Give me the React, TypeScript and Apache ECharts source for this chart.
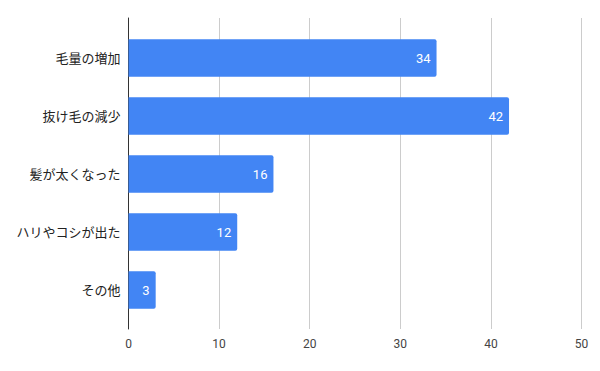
import React, { useEffect, useRef } from "react";
import * as echarts from "echarts";

const categories = ["毛量の増加", "抜け毛の減少", "髪が太くなった", "ハリやコシが出た", "その他"];
const values = [34, 42, 16, 12, 3];
const xMin = 0;
const xMax = 50;
const xInterval = 10;

const FONT = "Roboto, 'Noto Sans CJK JP', sans-serif";

export default function App() {
  const ref = useRef<HTMLDivElement>(null);
  useEffect(() => {
    if (!ref.current) return;
    const chart = echarts.init(ref.current, null, { renderer: "svg" });
    chart.setOption({
      animation: false,
      textStyle: { fontFamily: FONT },
      grid: [
        { left: 128.5, right: 18.5, top: 18, bottom: 42 },
        { left: 128.5, right: 18.5, top: 29, bottom: 52 },
      ],
      xAxis: [
        {
          gridIndex: 0,
          type: "value",
          min: xMin,
          max: xMax,
          interval: xInterval,
          axisLine: { show: false },
          axisTick: { show: false },
          splitLine: { show: true, lineStyle: { color: "#cccccc", width: 1 } },
          axisLabel: { color: "#444444", fontSize: 12, margin: 9, fontFamily: FONT },
        },
        {
          gridIndex: 1,
          type: "value",
          min: xMin,
          max: xMax,
          interval: xInterval,
          show: false,
        },
      ],
      yAxis: [
        {
          gridIndex: 0,
          type: "category",
          data: categories,
          inverse: true,
          axisLine: { show: true, lineStyle: { color: "#333333", width: 1 } },
          axisTick: { show: false },
          axisLabel: { show: false },
          splitLine: { show: false },
        },
        {
          gridIndex: 1,
          type: "category",
          data: categories,
          inverse: true,
          axisLine: { show: false },
          axisTick: { show: false },
          splitLine: { show: false },
          axisLabel: { color: "#222222", fontSize: 13, margin: 8, fontFamily: FONT },
        },
      ],
      series: [
        {
          type: "bar",
          xAxisIndex: 1,
          yAxisIndex: 1,
          data: values,
          barCategoryGap: "35%",
          itemStyle: { color: "#4285F4", borderRadius: [0, 2, 2, 0] },
          label: {
            show: true,
            position: "insideRight",
            distance: 6,
            color: "#ffffff",
            fontSize: 13,
            fontFamily: FONT,
          },
        },
      ],
    });
    return () => chart.dispose();
  }, []);
  return (
    <div
      ref={ref}
      style={{ position: "fixed", left: 0, top: 0, width: 600, height: 371, background: "#ffffff" }}
    />
  );
}
